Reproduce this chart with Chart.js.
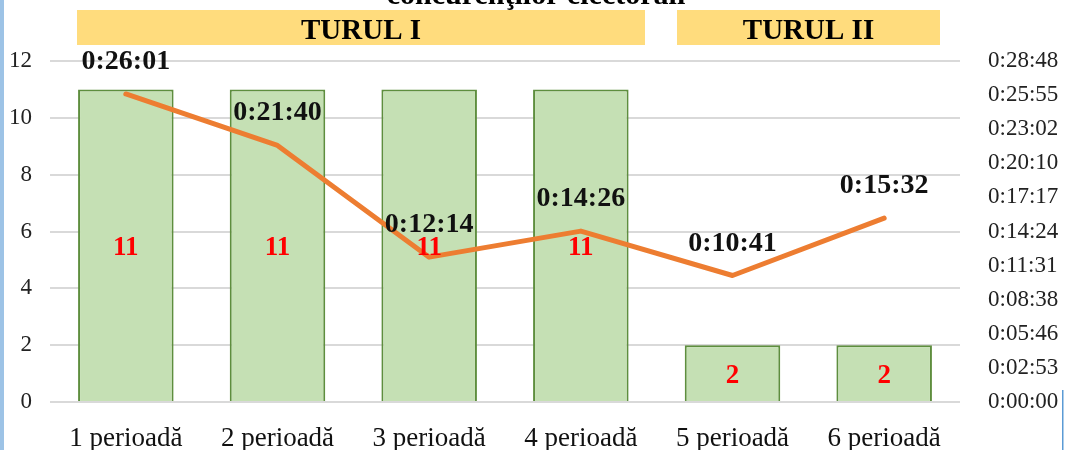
<!DOCTYPE html>
<html>
<head>
<meta charset="utf-8">
<script src="https://cdn.jsdelivr.net/npm/chart.js@4/dist/chart.umd.min.js"></script>
<style>
  html, body { margin: 0; padding: 0; background: #fff; }
  #wrap { width: 1066px; height: 450px; position: relative; }
</style>
</head>
<body>
<div id="wrap"><canvas id="chart" width="1066" height="450"></canvas></div>
<script>
// date
const categorii = ["1 perioadă", "2 perioadă", "3 perioadă", "4 perioadă", "5 perioadă", "6 perioadă"];
const concurenti = [11, 11, 11, 11, 2, 2];
const durataMedie = ["0:26:01", "0:21:40", "0:12:14", "0:14:26", "0:10:41", "0:15:32"];
const tururi = ["TURUL I", "TURUL II"];
const titlu = "concurenţilor electorali";

const FONT = '"Liberation Serif", "Times New Roman", serif';

// h:mm:ss -> secunde
function toSec(t) {
  const p = t.split(":").map(Number);
  return p[0] * 3600 + p[1] * 60 + p[2];
}
function fmt(s) {
  s = Math.round(s);
  const h = Math.floor(s / 3600);
  const m = Math.floor((s % 3600) / 60);
  const sec = s % 60;
  return h + ":" + String(m).padStart(2, "0") + ":" + String(sec).padStart(2, "0");
}
const durataSec = durataMedie.map(toSec);

// fundal, titlu taiat si benzile TURUL I / TURUL II
const decor = {
  id: "decor",
  beforeDraw(chart) {
    const c = chart.ctx;
    c.save();
    c.fillStyle = "#fff";
    c.fillRect(0, 0, chart.width, chart.height);
    c.fillStyle = "#9dc3e6";
    c.fillRect(0, 0, 4, chart.height);
    c.fillStyle = "#5b9bd5";
    c.fillRect(1062, 390, 1.5, 60);

    c.fillStyle = "#000";
    c.font = "bold 30px " + FONT;
    c.textAlign = "center";
    c.textBaseline = "alphabetic";
    c.fillText(titlu, 536, 4);

    const benzi = [[77, 645], [677, 940]];
    benzi.forEach((b, i) => {
      c.fillStyle = "#ffdc7d";
      c.fillRect(b[0], 10, b[1] - b[0], 35);
      c.fillStyle = "#000";
      c.font = "bold 29px " + FONT;
      c.fillText(tururi[i], (b[0] + b[1]) / 2, 39);
    });
    c.restore();
  }
};

// etichete pe bare si pe linie
const etichete = {
  id: "etichete",
  afterDatasetsDraw(chart) {
    const c = chart.ctx;
    c.save();
    c.textAlign = "center";
    c.textBaseline = "alphabetic";

    const bare = chart.getDatasetMeta(0).data;
    c.font = "bold 27px " + FONT;
    c.fillStyle = "#ff0000";
    bare.forEach((el, i) => {
      const mid = (el.y + el.base) / 2;
      c.fillText(String(concurenti[i]), el.x, mid + 10);
    });

    const puncte = chart.getDatasetMeta(1).data;
    c.font = "bold 28px " + FONT;
    c.fillStyle = "#111";
    puncte.forEach((el, i) => {
      c.fillText(durataMedie[i], el.x, el.y - 25);
    });
    c.restore();
  }
};

new Chart(document.getElementById("chart").getContext("2d"), {
  data: {
    labels: categorii,
    datasets: [
      {
        type: "bar",
        label: "Concurenţi",
        data: concurenti,
        yAxisID: "y",
        backgroundColor: "#c5e0b4",
        borderColor: "#5e8e3e",
        borderWidth: 2,
        barPercentage: 0.63,
        categoryPercentage: 1,
        order: 1
      },
      {
        type: "line",
        label: "Durata medie",
        data: durataSec,
        yAxisID: "y1",
        borderColor: "#ed7d31",
        borderWidth: 5,
        pointRadius: 0,
        tension: 0,
        borderCapStyle: "round",
        borderJoinStyle: "round",
        order: 0
      }
    ]
  },
  options: {
    responsive: false,
    animation: false,
    layout: { padding: { top: 61, left: 0, right: 0, bottom: 0 } },
    plugins: {
      legend: { display: false },
      tooltip: { enabled: false }
    },
    scales: {
      x: {
        grid: { display: false, drawTicks: false },
        border: { display: false },
        ticks: { font: { family: FONT, size: 27 }, color: "#111", padding: 21, maxRotation: 0 },
        afterFit(s) { s.height = 48; }
      },
      y: {
        position: "left",
        min: 0,
        max: 12,
        ticks: { stepSize: 2, font: { family: FONT, size: 23 }, color: "#222", padding: 18 },
        grid: { color: "#d9d9d9", lineWidth: 2, drawTicks: false },
        border: { display: false },
        afterFit(s) { s.width = 50; }
      },
      y1: {
        position: "right",
        min: 0,
        max: 1728,
        ticks: { stepSize: 172.8, font: { family: FONT, size: 23 }, color: "#222", padding: 28, callback: v => fmt(v) },
        grid: { display: false, drawTicks: false },
        border: { display: false },
        afterFit(s) { s.width = 106; }
      }
    }
  },
  plugins: [decor, etichete]
});
</script>
</body>
</html>
